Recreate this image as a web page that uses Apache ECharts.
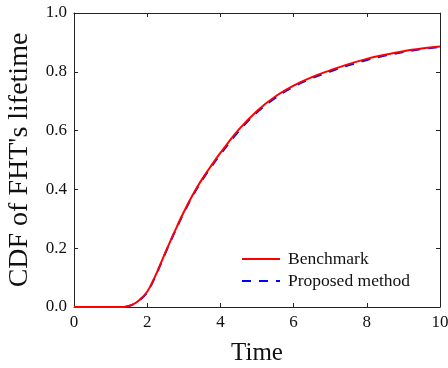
<!DOCTYPE html>
<html>
<head>
<meta charset="utf-8">
<script src="https://cdn.jsdelivr.net/npm/echarts@6/dist/echarts.min.js"></script>
<style>html,body{margin:0;padding:0;background:#fff}#c{width:448px;height:368px}</style>
</head>
<body>
<div id="c"></div>
<script>
var times = [0, 0.5, 1.0, 1.3, 1.45, 1.6, 1.8, 2.0, 2.2, 2.4, 2.6, 2.8, 3.0, 3.25, 3.5, 3.75, 4.0, 4.5, 5.0, 5.5, 6.0, 6.5, 7.0, 7.5, 8.0, 8.5, 9.0, 9.5, 10.0];
var benchmark = [0, 0, 0, 0, 0.002, 0.008, 0.025, 0.052, 0.10, 0.157, 0.215, 0.27, 0.323, 0.383, 0.435, 0.481, 0.524, 0.603, 0.667, 0.716, 0.753, 0.782, 0.805, 0.826, 0.844, 0.858, 0.870, 0.879, 0.886];
var proposed  = [0, 0, 0, 0, 0.002, 0.008, 0.024, 0.050, 0.098, 0.155, 0.213, 0.268, 0.320, 0.380, 0.431, 0.477, 0.519, 0.598, 0.662, 0.711, 0.749, 0.778, 0.801, 0.822, 0.840, 0.855, 0.867, 0.877, 0.884];
var xTicks = [0, 2, 4, 6, 8, 10];
var yTicks = [0.0, 0.2, 0.4, 0.6, 0.8, 1.0];
var xTitle = 'Time';
var yTitle = "CDF of FHT's lifetime";
var names = ['Benchmark', 'Proposed method'];

function pairs(xs, ys) { return xs.map(function (x, i) { return [x, ys[i]]; }); }

var font = '"Liberation Serif", "Times New Roman", serif';
var axisColor = '#222';

var chart = echarts.init(document.getElementById('c'), null, {renderer: 'canvas'});
var baseX = {
  type: 'value', min: xTicks[0], max: xTicks[xTicks.length - 1], interval: 2,
  axisLine: {show: true, onZero: false, lineStyle: {color: axisColor, width: 1}},
  axisTick: {show: true, inside: true, length: 4, lineStyle: {color: axisColor}},
  splitLine: {show: false}
};
var baseY = {
  type: 'value', min: yTicks[0], max: yTicks[yTicks.length - 1], interval: 0.2,
  axisLine: {show: true, onZero: false, lineStyle: {color: axisColor, width: 1}},
  axisTick: {show: true, inside: true, length: 4, lineStyle: {color: axisColor}},
  splitLine: {show: false}
};
chart.setOption({
  animation: false,
  backgroundColor: '#fff',
  grid: {left: 74, right: 8, top: 13, bottom: 61, containLabel: false, outerBoundsMode: 'none'},
  legend: {
    data: names,
    orient: 'vertical',
    left: 241, top: 250, padding: 0,
    itemWidth: 38, itemHeight: 14, itemGap: 4,
    itemStyle: {opacity: 0},
    textStyle: {fontFamily: font, fontSize: 17.5, color: '#111', lineHeight: 14, padding: [0, 0, 0, 3]}
  },
  xAxis: [
    Object.assign({}, baseX, {
      position: 'bottom',
      name: xTitle, nameLocation: 'middle', nameGap: 34,
      nameTextStyle: {fontFamily: font, fontSize: 25, color: '#111'},
      axisLabel: {fontFamily: font, fontSize: 17, color: '#111', margin: 7,
        formatter: function (v) { return String(v); }}
    }),
    Object.assign({}, baseX, {position: 'top', axisLabel: {show: false}})
  ],
  yAxis: [
    Object.assign({}, baseY, {
      position: 'left',
      name: yTitle, nameLocation: 'middle', nameGap: 40,
      nameTextStyle: {fontFamily: font, fontSize: 28, color: '#111'},
      axisLabel: {fontFamily: font, fontSize: 17, color: '#111', margin: 7,
        formatter: function (v) { return v.toFixed(1); }}
    }),
    Object.assign({}, baseY, {position: 'right', axisLabel: {show: false}})
  ],
  series: [
    {
      name: names[1], type: 'line', data: pairs(times, proposed),
      xAxisIndex: 0, yAxisIndex: 0,
      showSymbol: false, symbol: 'none', smooth: 0.4,
      z: 2,
      itemStyle: {color: '#0000ff'},
      lineStyle: {color: '#0000ff', width: 2, type: [9, 8]}
    },
    {
      name: names[0], type: 'line', data: pairs(times, benchmark),
      xAxisIndex: 0, yAxisIndex: 0,
      showSymbol: false, symbol: 'none', smooth: 0.4,
      z: 3,
      itemStyle: {color: '#ff0000'},
      lineStyle: {color: '#ff0000', width: 2}
    }
  ]
});
</script>
</body>
</html>
